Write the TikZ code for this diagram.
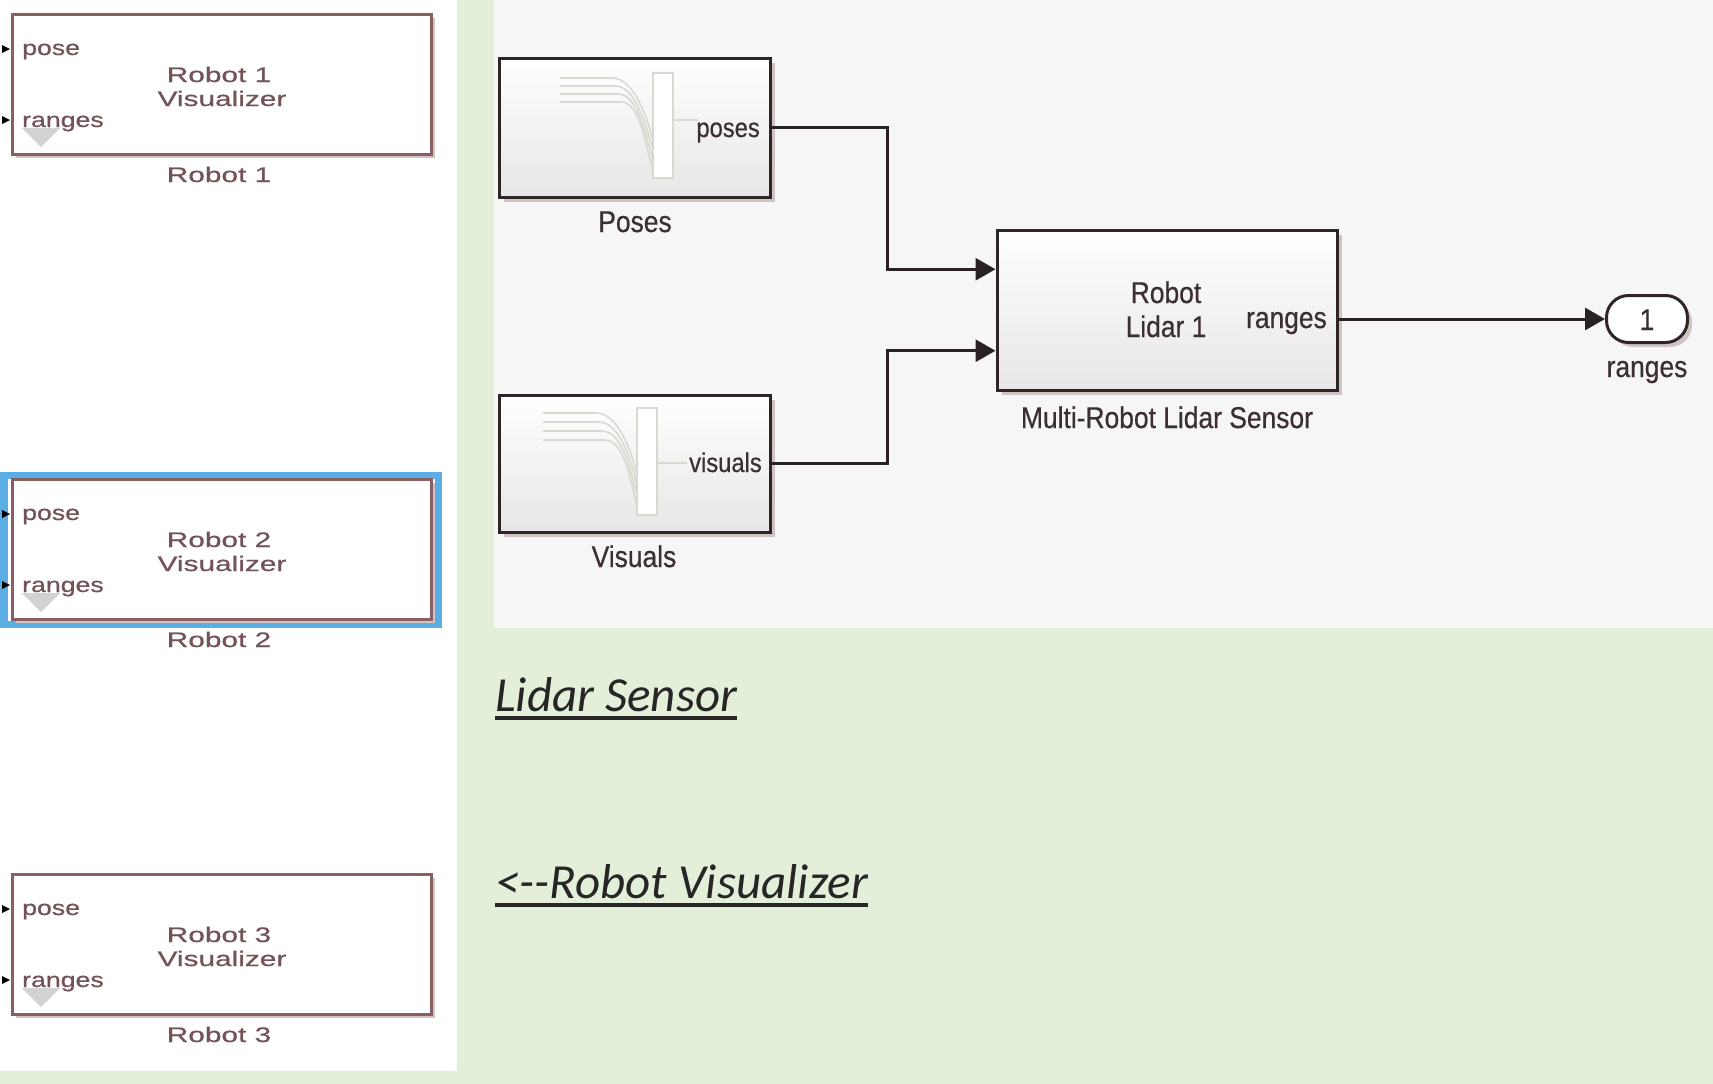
\documentclass[tikz,border=0pt]{standalone}
\usepackage{fontspec}
\setmainfont{Liberation Sans}
\newfontfamily\leftportfont[FakeStretch=1.27,FakeBold=0.6]{Liberation Sans}
\newfontfamily\lefttitlefont[FakeStretch=1.42,FakeBold=0.6]{Liberation Sans}
\newfontfamily\rightfont[FakeStretch=0.88,FakeBold=0.5]{Liberation Sans}
\newfontfamily\calibfont{Carlito}
\usetikzlibrary{arrows.meta,calc}
\definecolor{bggreen}{HTML}{E4EFDA}
\definecolor{panelgray}{HTML}{F6F6F6}
\definecolor{leftborder}{HTML}{8A5F63}
\definecolor{lefttext}{HTML}{735357}
\definecolor{blockborder}{HTML}{2F2525}
\definecolor{shadowc}{HTML}{CFC3C4}
\definecolor{wirec}{HTML}{2A2222}
\definecolor{hilite}{HTML}{5AAEE3}
\definecolor{iconc}{HTML}{D9D9D2}
\definecolor{righttext}{HTML}{3C2F30}
\definecolor{bigtext}{HTML}{262626}
\definecolor{blockbot}{HTML}{E8E6E6}
\tikzset{
  robotbox/.style={draw=leftborder, line width=3pt, fill=white, minimum width=419pt, minimum height=140pt, inner sep=0pt},
  lport/.style={text=lefttext, font=\leftportfont\fontsize{21}{24}\selectfont, inner sep=0pt},
  ltitle/.style={text=lefttext, font=\lefttitlefont\fontsize{21}{24}\selectfont, inner sep=0pt},
  simblock/.style={draw=blockborder, line width=3pt, top color=white, bottom color=blockbot, inner sep=0pt},
  rlabel/.style={text=righttext, font=\rightfont\fontsize{30}{34}\selectfont, inner sep=0pt},
  rport/.style={text=righttext, font=\rightfont\fontsize{27}{30}\selectfont, inner sep=0pt},
  bigt/.style={text=bigtext, font=\calibfont\itshape\fontsize{49}{56}\selectfont, inner sep=0pt},
  uline/.style={draw=bigtext, line width=3.2pt},
  wire/.style={draw=wirec, line width=3pt, -{Triangle[length=20pt,width=22pt]}},
  iconline/.style={draw=iconc, line width=1.6pt},
  shadowbox/.style={fill=shadowc},
}
\begin{document}
\begin{tikzpicture}[x=1pt,y=-1pt]
\useasboundingbox (0,0) rectangle (1713,1084);
\fill[bggreen] (0,0) rectangle (1713,1084);
\fill[white] (0,0) rectangle (457,1071);
\fill[panelgray] (494,0) rectangle (1713,628);

% highlight of Robot 2
\draw[hilite, line width=7pt] (4,475) rectangle (438,624);

% robot visualizer blocks
\foreach \n/\t in {1/13,2/478,3/873}{
  \fill[shadowbox] (16,\t+5) rectangle (435,\t+145);
  \node[robotbox, anchor=north west] (rb\n) at (11,\t) {};
  \fill[gray!35] (22,\t+115) -- (60,\t+115) -- (41,\t+134) -- cycle;
  \fill[black] (2,\t+32) -- (10,\t+36) -- (2,\t+40) -- cycle;
  \fill[black] (2,\t+103) -- (10,\t+107) -- (2,\t+111) -- cycle;
  \node[lport, anchor=base west] (rp\n) at (22,\t+42) {pose};
  \node[lport, anchor=base west] (rr\n) at (22,\t+114) {ranges};
  \node[ltitle, anchor=base] (rt\n) at (219,\t+69) {Robot \n};
  \node[ltitle, anchor=base] (rv\n) at (222,\t+93) {Visualizer};
  \node[ltitle, anchor=base] (rl\n) at (219,\t+169) {Robot \n};
}

% Poses block
\fill[shadowbox] (504,63) rectangle (775,202);
\node[simblock, minimum width=271pt, minimum height=139pt] (poses) at (634.5,127.5) {};
\foreach \i in {0,...,3}{
  \draw[iconline] (560,78+8*\i) -- (612+3*\i,78+8*\i) .. controls (632+3*\i,78+8*\i) and (645,110+12*\i) .. (653,140+10*\i);
}
\draw[iconline, fill=white] (653,73) rectangle (673,178);
\draw[iconline] (673,120) -- (698,120);

% Visuals block
\fill[shadowbox] (504,400) rectangle (775,537);
\node[simblock, minimum width=271pt, minimum height=137pt] (visuals) at (634.5,463.5) {};
\foreach \i in {0,...,3}{
  \draw[iconline] (543,413+9*\i) -- (596+3*\i,413+9*\i) .. controls (616+3*\i,413+9*\i) and (630,445+12*\i) .. (637,475+10*\i);
}
\draw[iconline, fill=white] (637,408) rectangle (657,515);
\draw[iconline] (657,463) -- (687,463);

% Lidar block
\fill[shadowbox] (1002,235) rectangle (1342,395);
\node[simblock, minimum width=340pt, minimum height=160pt] (lidar) at (1167,310) {};

% Outport
\fill[shadowbox, rounded corners=22pt] (1611,300) rectangle (1692,347);
\node[draw=blockborder, line width=3pt, fill=white, rounded corners=22pt, minimum width=81pt, minimum height=47pt, inner sep=0pt] (outport) at (1647,319) {};

% port coordinates
\coordinate (lin1) at ($(lidar.north west)!0.25!(lidar.south west)$);
\coordinate (lin2) at ($(lidar.north west)!0.75!(lidar.south west)$);
\coordinate (lout) at ($(lidar.east)+(0,9)$);

% wires
\draw[wire] (poses.east) -- ++(116,0) |- (lin1);
\draw[wire] (visuals.east) -- ++(116,0) |- (lin2);
\draw[wire] (lout) -- (outport.west);

% texts of the model
\node[rlabel, anchor=base] (posesL) at (635,232) {Poses};
\node[rport, anchor=base east] (posesP) at (760,137) {poses};
\node[rlabel, anchor=base] (visL) at (634,567) {Visuals};
\node[rport, anchor=base east] (visP) at (762,472) {visuals};
\node[rlabel, anchor=base] (lt1) at (1166,303) {Robot};
\node[rlabel, anchor=base] (lt2) at (1166,337) {Lidar 1};
\node[rlabel, anchor=base east] (lrp) at (1327,328) {ranges};
\node[rlabel, anchor=base] (lidL) at (1167,428) {Multi-Robot Lidar Sensor};
\node[rlabel, anchor=base] (one) at (1647,330) {1};
\node[rlabel, anchor=base] (outL) at (1647,377) {ranges};

% big italic captions
\node[bigt, anchor=base west] (capA) at (495,711) {Lidar Sensor};
\draw[uline] ($(capA.base west)+(0,7)$) -- ($(capA.base east)+(0,7)$);
\node[bigt, anchor=base west] (capB) at (495,898) {<{-}{-}Robot Visualizer};
\draw[uline] ($(capB.base west)+(0,7)$) -- ($(capB.base east)+(0,7)$);
\end{tikzpicture}
\end{document}
